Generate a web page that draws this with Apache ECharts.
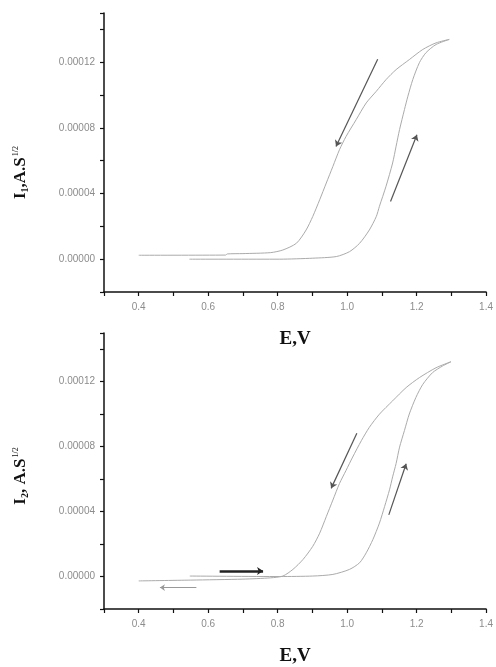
<!DOCTYPE html>
<html>
<head>
<meta charset="utf-8">
<script src="https://cdn.jsdelivr.net/npm/echarts@6/dist/echarts.min.js"></script>
<style>html,body{margin:0;padding:0;background:#fff}#c{width:496px;height:667px}</style>
</head>
<body>
<div id="c"></div>
<script>
// ---- data (E in V, I in A.s^1/2) ----
const xTicks = [0.4, 0.6, 0.8, 1.0, 1.2, 1.4];
const yTicks = [0.0, 0.00004, 0.00008, 0.00012];

const topForward = [
  [0.546,0],[0.806,0],[0.901,0.0000006],[0.969,0.0000016],[1.007,0.0000046],[1.036,0.0000097],
  [1.064,0.0000178],[1.084,0.000026],[1.093,0.0000322],[1.112,0.0000444],[1.131,0.0000586],
  [1.141,0.0000688],[1.151,0.000079],[1.165,0.0000911],[1.175,0.0000993],[1.189,0.0001094],
  [1.208,0.0001197],[1.227,0.0001258],[1.256,0.0001308],[1.294,0.0001339]
];
const topReverse = [
  [1.294,0.0001339],[1.256,0.0001318],[1.218,0.0001278],[1.179,0.0001216],[1.141,0.0001155],
  [1.112,0.0001094],[1.084,0.0001023],[1.055,0.0000952],[1.026,0.000085],[0.997,0.0000748],
  [0.978,0.0000667],[0.959,0.0000565],[0.94,0.0000464],[0.921,0.0000362],[0.901,0.000026],
  [0.882,0.0000178],[0.854,0.0000097],[0.815,0.0000056],[0.78,0.000004],[0.7,0.0000034],
  [0.655,0.0000032],[0.65,0.0000025],[0.4,0.0000024]
];
const bottomForward = [
  [0.547,0.0000003],[0.806,0],[0.901,0.0000003],[0.959,0.0000013],[1.007,0.0000044],[1.036,0.0000085],
  [1.055,0.0000146],[1.074,0.0000227],[1.093,0.0000329],[1.108,0.0000432],[1.122,0.0000534],
  [1.131,0.0000614],[1.141,0.0000696],[1.151,0.0000797],[1.165,0.0000899],[1.179,0.0001001],
  [1.198,0.0001103],[1.218,0.0001184],[1.246,0.0001256],[1.275,0.0001297],[1.299,0.0001323]
];
const bottomReverse = [
  [1.299,0.0001323],[1.256,0.0001286],[1.208,0.0001225],[1.17,0.0001164],[1.131,0.0001082],
  [1.093,0.0001],[1.064,0.0000919],[1.041,0.0000837],[1.016,0.0000736],[0.997,0.0000654],
  [0.978,0.0000573],[0.959,0.0000471],[0.94,0.0000369],[0.921,0.0000267],[0.901,0.0000186],
  [0.873,0.0000105],[0.844,0.0000044],[0.815,0.0000003],[0.78,-0.0000008],[0.7,-0.0000016],
  [0.55,-0.0000022],[0.4,-0.0000027]
];
const topArrows = [
  [[1.088,0.0001218],[0.968,0.0000687]],
  [[1.125,0.0000351],[1.201,0.0000758]]
];
const bottomArrows = [
  [[1.028,0.0000883],[0.954,0.0000543]],
  [[1.120,0.000038],[1.170,0.0000695]]
];
const bottomThickArrow = [[[0.633,0.0000034],[0.758,0.0000034]]];
const bottomSmallArrow = [[[0.566,-0.0000068],[0.461,-0.0000068]]];

// ---- chart ----
const near = (a, b) => Math.abs(a - b) < 1e-9;
function xAxisCfg(gi) {
  return {
    gridIndex: gi, type: 'value', min: 0.3, max: 1.4, interval: 0.1,
    name: 'E,V', nameLocation: 'middle', nameGap: 38,
    nameTextStyle: {fontFamily: 'Liberation Serif', fontWeight: 'bold', fontSize: 19, color: '#111'},
    axisLine: {show: true, onZero: false, lineStyle: {color: '#111', width: 1.5}},
    axisTick: {show: true, inside: false, length: 4, lineStyle: {color: '#111', width: 1.2}},
    splitLine: {show: false},
    axisLabel: {
      margin: 10, fontSize: 10, color: '#8c8c8c', fontFamily: 'Liberation Sans',
      formatter: v => xTicks.some(t => near(t, v)) ? v.toFixed(1) : ''
    }
  };
}
function yAxisCfg(gi, sub, sep, pad) {
  return {
    gridIndex: gi, type: 'value', min: -0.00002, max: 0.00015, interval: 0.00002,
    name: '{b|I}{s|' + sub + '}{b|' + sep + 'A.S}{p|1/2}', nameLocation: 'middle', nameGap: 74,
    nameTextStyle: {
      padding: pad,
      rich: {
        b: {fontFamily: 'Liberation Serif', fontWeight: 'bold', fontSize: 17, color: '#111'},
        s: {fontFamily: 'Liberation Serif', fontWeight: 'bold', fontSize: 10, color: '#111', padding: [9, 0, 0, 0]},
        p: {fontFamily: 'Liberation Serif', fontSize: 8, color: '#111', padding: [0, 0, 9, 1]}
      }
    },
    axisLine: {show: true, onZero: false, lineStyle: {color: '#111', width: 1.5}},
    axisTick: {show: true, inside: false, length: 4, lineStyle: {color: '#111', width: 1.2}},
    splitLine: {show: false},
    axisLabel: {
      margin: 9, fontSize: 10, color: '#8c8c8c', fontFamily: 'Liberation Sans',
      formatter: v => yTicks.some(t => near(t, v)) ? v.toFixed(5) : ''
    }
  };
}
const curveStyle = {color: '#ababab', width: 1};
function curve(data, gi) {
  return {type: 'line', xAxisIndex: gi, yAxisIndex: gi, data: data, showSymbol: false, symbol: 'none',
    smooth: 0.25, lineStyle: curveStyle, itemStyle: {color: '#ababab'}, silent: true, animation: false};
}
function arrows(data, gi, color, width, size) {
  return {type: 'lines', coordinateSystem: 'cartesian2d', xAxisIndex: gi, yAxisIndex: gi,
    symbol: ['none', 'arrow'], symbolSize: size,
    lineStyle: {color: color, width: width, opacity: 1}, data: data.map(c => ({coords: c})),
    silent: true, animation: false};
}

const chart = echarts.init(document.getElementById('c'), null, {renderer: 'canvas'});
chart.setOption({
  backgroundColor: '#fff',
  animation: false,
  grid: [
    {left: 104, top: 13, width: 383, height: 279, containLabel: false},
    {left: 104, top: 333, width: 383, height: 280, containLabel: false}
  ],
  xAxis: [xAxisCfg(0), xAxisCfg(1)],
  yAxis: [yAxisCfg(0, '1', ',', [0, 40, 0, 0]), yAxisCfg(1, '2', ', ', [0, 10, 0, 0])],
  series: [
    curve(topForward, 0), curve(topReverse, 0),
    curve(bottomForward, 1), curve(bottomReverse, 1),
    arrows(topArrows, 0, '#555', 1.2, 6),
    arrows(bottomArrows, 1, '#555', 1.2, 6),
    arrows(bottomThickArrow, 1, '#222', 2.5, 6),
    arrows(bottomSmallArrow, 1, '#999', 1, 5)
  ]
});
</script>
</body>
</html>
